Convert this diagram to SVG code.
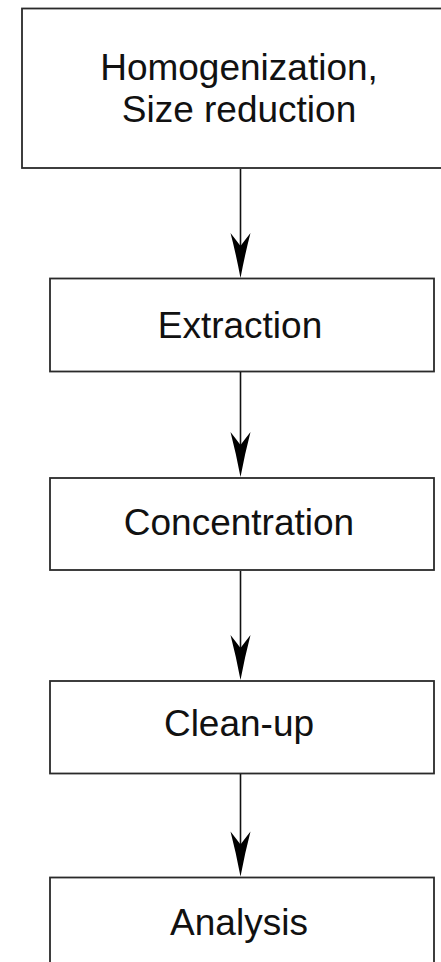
<svg xmlns="http://www.w3.org/2000/svg" width="441" height="962" viewBox="0 0 441 962">
<defs>
<style>
.box{fill:#fff;stroke:#2a2a2a;stroke-width:1.8}
.lbl{font-family:"Liberation Sans",Arial,sans-serif;font-size:37px;fill:#111;text-anchor:middle}
.conn{stroke:#111;stroke-width:1.6;fill:none}
.head{fill:#000}
</style>
<path id="ah" class="head" d="M0,0 Q-4.5,-24 -10,-45 Q-4.5,-38 0,-32 Q4.5,-38 10,-45 Q4.5,-24 0,0 Z"/>
</defs>
<rect width="441" height="962" fill="#fff"/>
<g id="n1">
<rect class="box" x="22" y="8.5" width="440" height="159.5"/>
<text class="lbl" x="239" y="80">Homogenization,</text>
<text class="lbl" x="239" y="122">Size reduction</text>
</g>
<g id="n2">
<rect class="box" x="50" y="278.5" width="384" height="93"/>
<text class="lbl" x="240" y="338">Extraction</text>
</g>
<g id="n3">
<rect class="box" x="50" y="478" width="384" height="92"/>
<text class="lbl" x="239" y="535">Concentration</text>
</g>
<g id="n4">
<rect class="box" x="50" y="681" width="384" height="92.5"/>
<text class="lbl" x="239" y="736">Clean-up</text>
</g>
<g id="n5">
<rect class="box" x="50" y="877.5" width="384" height="100"/>
<text class="lbl" x="239" y="935">Analysis</text>
</g>
<g id="connectors">
<line class="conn" x1="240.5" y1="169" x2="240.5" y2="260"/>
<use href="#ah" x="240.5" y="278"/>
<line class="conn" x1="240.5" y1="372" x2="240.5" y2="460"/>
<use href="#ah" x="240.5" y="477"/>
<line class="conn" x1="240.5" y1="571" x2="240.5" y2="662"/>
<use href="#ah" x="240.5" y="680"/>
<line class="conn" x1="240.5" y1="774" x2="240.5" y2="858"/>
<use href="#ah" x="240.5" y="876.5"/>
</g>
</svg>
